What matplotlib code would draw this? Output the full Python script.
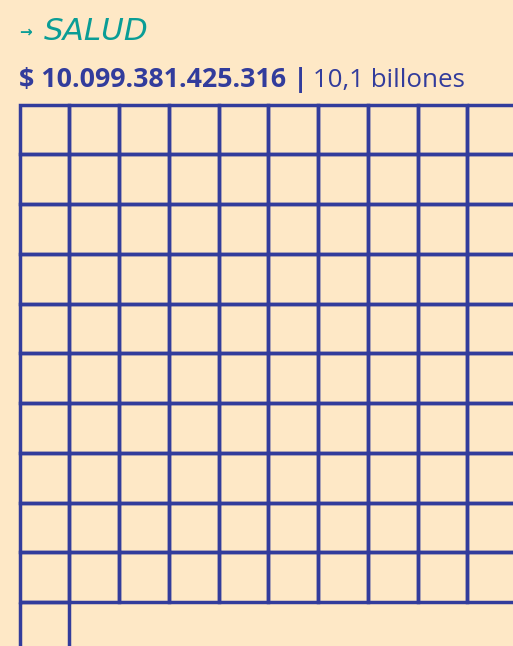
import matplotlib
matplotlib.use('Agg')
import matplotlib.pyplot as plt
from matplotlib.patches import Rectangle

# Data
sector = "SALUD"
amount = 10099381425316          # pesos
amount_label = "$ 10.099.381.425.316"
short_label = "10,1 billones"
unit_value = 1e11                  # each square = 0.1 billones
n_cols = 10

n_squares = int(round(amount / unit_value))   # 101

# Style
BG = '#FEE8C6'
NAVY = '#323C9C'
TEAL = '#0A9D96'
FONT = 'Open Sans'

W, H = 513, 646
fig = plt.figure(figsize=(W / 100, H / 100), dpi=100, facecolor=BG)
ax = fig.add_axes([0, 0, 1, 1])
ax.set_xlim(0, W)
ax.set_ylim(H, 0)
ax.axis('off')
ax.set_facecolor(BG)

# waffle grid
x0, y0 = 19.5, 104.5
cell = 49.75
for i in range(n_squares):
    r, c = divmod(i, n_cols)
    ax.add_patch(Rectangle((x0 + c * cell, y0 + r * cell), cell, cell,
                           facecolor='none', edgecolor=NAVY, linewidth=2.5,
                           clip_on=True))

# title
ax.text(19, 36, '\u2192', color=TEAL, fontsize=11, fontweight='bold',
        family=['DejaVu Sans'], va='baseline')
ax.text(44, 40.5, sector, color=TEAL, fontsize=22.3, fontstyle='italic',
        fontweight='normal', family='DejaVu Sans', va='baseline')

# amount line
fig.canvas.draw()
r = fig.canvas.get_renderer()
t1 = ax.text(19, 87, amount_label + ' |', color=NAVY, fontsize=19.3,
             fontweight='bold', family=FONT, va='baseline')
bb = t1.get_window_extent(renderer=r)
x_end = ax.transData.inverted().transform((bb.x1, bb.y0))[0]
ax.text(x_end + 5, 87, short_label, color=NAVY, fontsize=18.6,
        family=FONT, va='baseline')

plt.savefig('out.png', dpi=100, facecolor=BG)
